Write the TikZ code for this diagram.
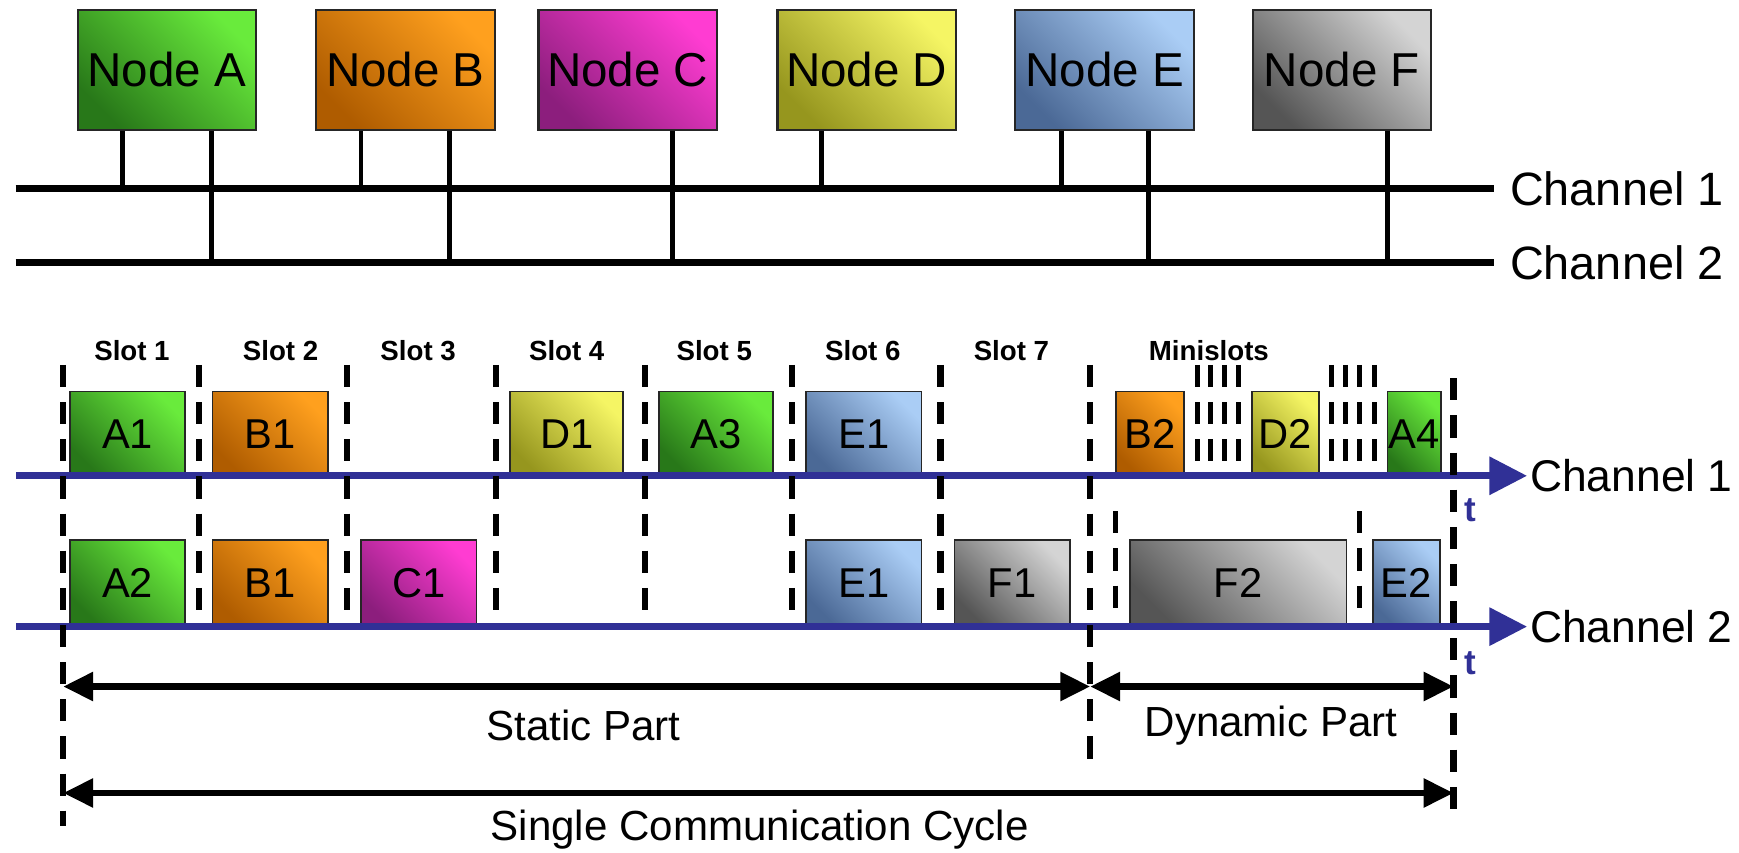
\documentclass[tikz,border=0pt]{standalone}
\usepackage{fontspec}
\setmainfont{Liberation Sans}
\usetikzlibrary{arrows.meta}
\definecolor{tlblue}{RGB}{48,48,150}
\definecolor{gD}{RGB}{40,120,25}\definecolor{gL}{RGB}{105,235,60}
\definecolor{oD}{RGB}{175,92,0}\definecolor{oL}{RGB}{255,160,30}
\definecolor{mD}{RGB}{140,30,125}\definecolor{mL}{RGB}{255,60,210}
\definecolor{yD}{RGB}{150,150,30}\definecolor{yL}{RGB}{245,245,100}
\definecolor{bD}{RGB}{75,105,150}\definecolor{bL}{RGB}{170,205,245}
\definecolor{kD}{RGB}{85,85,85}\definecolor{kL}{RGB}{212,212,212}
\tikzset{
  fgreen/.style={top color=gL,bottom color=gD,shading angle=-45},
  forange/.style={top color=oL,bottom color=oD,shading angle=-45},
  fmagenta/.style={top color=mL,bottom color=mD,shading angle=-45},
  fyellow/.style={top color=yL,bottom color=yD,shading angle=-45},
  fblue/.style={top color=bL,bottom color=bD,shading angle=-45},
  fgray/.style={top color=kL,bottom color=kD,shading angle=-45},
  netnode/.style={draw=black!85,line width=0.2mm,minimum width=16.1mm,minimum height=10.8mm,inner sep=0pt,font=\fontsize{12.2pt}{14pt}\selectfont},
  frame/.style={draw=black!85,line width=0.15mm,inner sep=0pt,font=\fontsize{10.7pt}{12pt}\selectfont},
  rowone/.style={minimum height=7.6mm},
  rowtwo/.style={minimum height=7.8mm},
  bus/.style={line width=0.65mm,black},
  stub/.style={line width=0.45mm,black},
  tline/.style={line width=0.66mm,tlblue,-{Triangle[length=3.4mm,width=3.3mm]}},
  slotline/.style={line width=0.55mm,black,dash pattern=on 2mm off 1.35mm},
  miniline/.style={line width=0.45mm,black,dash pattern=on 2mm off 1.35mm},
  span/.style={line width=0.6mm,black,{Triangle[length=2.7mm,width=2.5mm]}-{Triangle[length=2.7mm,width=2.5mm]}},
  slotlabel/.style={font=\bfseries\fontsize{7.1pt}{8pt}\selectfont,inner sep=0pt},
  chlabel/.style={font=\fontsize{12pt}{14pt}\selectfont,anchor=west,inner sep=0pt},
  chlabelb/.style={font=\fontsize{11.4pt}{13pt}\selectfont,anchor=west,inner sep=0pt},
  tlabel/.style={font=\bfseries\fontsize{9pt}{10pt}\selectfont,text=tlblue,inner sep=0pt},
  partlabel/.style={font=\fontsize{10.8pt}{12pt}\selectfont,inner sep=0pt},
}
\begin{document}
\begin{tikzpicture}[x=0.1mm,y=-0.1mm]
\useasboundingbox (0,0) rectangle (1568,769);
% ---------- network nodes ----------
\node[netnode,fgreen]   (nA) at (150.5,63) {Node A};
\node[netnode,forange]  (nB) at (365.5,63) {Node B};
\node[netnode,fmagenta] (nC) at (566,63)   {Node C};
\node[netnode,fyellow]  (nD) at (781.5,63) {Node D};
\node[netnode,fblue]    (nE) at (996,63)   {Node E};
\node[netnode,fgray]    (nF) at (1210,63)  {Node F};
% buses
\coordinate (b1L) at (14,170);  \coordinate (b1R) at (1347,170);
\coordinate (b2L) at (14,237);  \coordinate (b2R) at (1347,237);
\draw[bus] (b1L) -- (b1R);
\draw[bus] (b2L) -- (b2R);
\node[chlabel] (ch1top) at ([xshift=1.4mm]b1R) {Channel 1};
\node[chlabel] (ch2top) at ([xshift=1.4mm]b2R) {Channel 2};
% stubs
\draw[stub] ([xshift=-4mm]nA.south) -- ([xshift=-4mm]nA.south |- b1L);
\draw[stub] ([xshift=4mm]nA.south)  -- ([xshift=4mm]nA.south |- b2L);
\draw[stub] ([xshift=-4mm]nB.south) -- ([xshift=-4mm]nB.south |- b1L);
\draw[stub] ([xshift=4mm]nB.south)  -- ([xshift=4mm]nB.south |- b2L);
\draw[stub] ([xshift=4mm]nC.south)  -- ([xshift=4mm]nC.south |- b2L);
\draw[stub] ([xshift=-4.1mm]nD.south) -- ([xshift=-4.1mm]nD.south |- b1L);
\draw[stub] ([xshift=-3.9mm]nE.south) -- ([xshift=-3.9mm]nE.south |- b1L);
\draw[stub] ([xshift=4mm]nE.south)  -- ([xshift=4mm]nE.south |- b2L);
\draw[stub] ([xshift=4.1mm]nF.south) -- ([xshift=4.1mm]nF.south |- b2L);
% ---------- slot labels ----------
\node[slotlabel] (sl1) at (119,316) {Slot 1};
\node[slotlabel] (sl2) at (253,316) {Slot 2};
\node[slotlabel] (sl3) at (377,316) {Slot 3};
\node[slotlabel] (sl4) at (511,316) {Slot 4};
\node[slotlabel] (sl5) at (644,316) {Slot 5};
\node[slotlabel] (sl6) at (778,316) {Slot 6};
\node[slotlabel] (sl7) at (912,316) {Slot 7};
\node[slotlabel] (slm) at (1090,316) {Minislots};
% ---------- frames channel 1 ----------
\node[frame,rowone,fgreen,minimum width=10.4mm]  (fA1) at (115,391)   {A1};
\node[frame,rowone,forange,minimum width=10.4mm] (fB1) at (243.7,391) {B1};
\node[frame,rowone,fyellow,minimum width=10.2mm] (fD1) at (511,391)   {D1};
\node[frame,rowone,fgreen,minimum width=10.3mm]  (fA3) at (645.5,391) {A3};
\node[frame,rowone,fblue,minimum width=10.4mm]   (fE1) at (779,391)   {E1};
\node[frame,rowone,forange,minimum width=6.1mm]  (fB2) at (1037,391)  {B2};
\node[frame,rowone,fyellow,minimum width=6.0mm]  (fD2) at (1159,391)  {D2};
\node[frame,rowone,fgreen,minimum width=4.8mm]   (fA4) at (1275,391)  {A4};
% ---------- frames channel 2 ----------
\node[frame,rowtwo,fgreen,minimum width=10.4mm]   (gA2) at (115,526)    {A2};
\node[frame,rowtwo,forange,minimum width=10.4mm]  (gB1) at (243.7,526)  {B1};
\node[frame,rowtwo,fmagenta,minimum width=10.4mm] (gC1) at (377.5,526)  {C1};
\node[frame,rowtwo,fblue,minimum width=10.4mm]    (gE1) at (779,526)    {E1};
\node[frame,rowtwo,fgray,minimum width=10.4mm]    (gF1) at (912.6,526)  {F1};
\node[frame,rowtwo,fgray,minimum width=19.5mm]    (gF2) at (1116.5,526) {F2};
\node[frame,rowtwo,fblue,minimum width=6.05mm]    (gE2) at (1268,526)   {E2};
% ---------- time lines ----------
\coordinate (t1L) at (14.5,429); \coordinate (t1R) at (1377,429);
\coordinate (t2L) at (14.5,565); \coordinate (t2R) at (1377,565);
\draw[tline] (t1L) -- (t1R);
\draw[tline] (t2L) -- (t2R);
\node[chlabelb] (ch1bot) at ([xshift=0.2mm]t1R) {Channel 1};
\node[chlabelb] (ch2bot) at ([xshift=0.2mm]t2R) {Channel 2};
\node[tlabel] (tt1) at (1326,460) {t};
\node[tlabel] (tt2) at (1326,598) {t};
% ---------- slot boundaries ----------
\draw[slotline] (57,329) -- (57,745);
\foreach \x in {179.5,313,447.5,581.6,714,848} {
  \draw[slotline] (\x,329) -- (\x,550);
}
\draw[slotline] (983,329) -- (983,687);
\draw[slotline] (1310.6,341) -- (1310.6,732);
% minislots
\foreach \x in {1079.5,1091.4,1104,1116.4,1200.4,1213,1226,1239.2} {
  \draw[miniline] (\x,329) -- (\x,416);
}
\draw[miniline] (1006,461) -- (1006,550);
\draw[miniline] (1226,461) -- (1226,550);
% ---------- spans ----------
\coordinate (c0) at (57,619);   \coordinate (c7) at (983,619);  \coordinate (c8) at (1310.6,619);
\coordinate (d0) at (57,715);   \coordinate (d8) at (1310.6,715);
\draw[span] (c0) -- (c7);
\draw[span] (c7) -- (c8);
\draw[span] (d0) -- (d8);
\node[partlabel] (lstat) at (526,654)  {Static Part};
\node[partlabel] (ldyn)  at (1146,654) {Dynamic Part};
\node[partlabel] (lcyc)  at (685,748)  {Single Communication Cycle};
\end{tikzpicture}
\end{document}
